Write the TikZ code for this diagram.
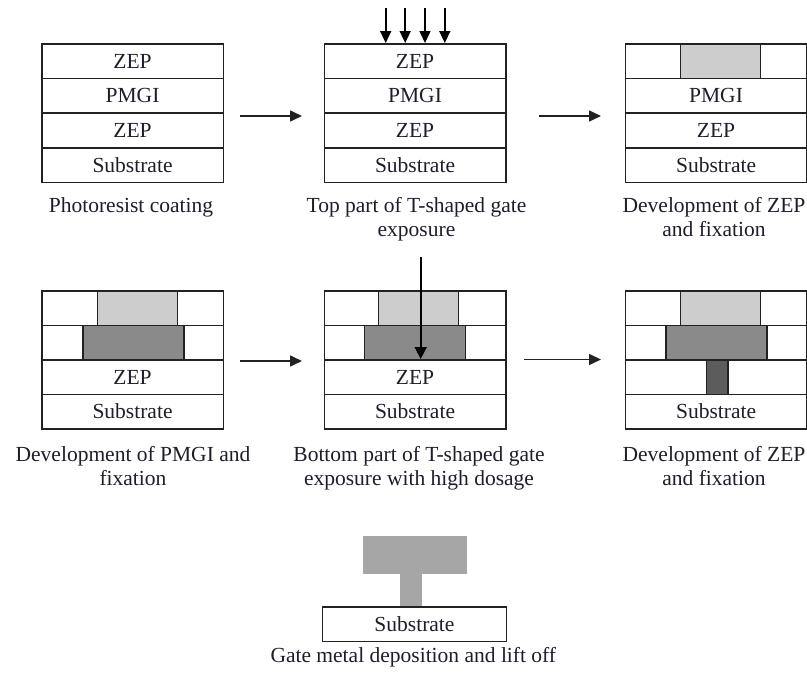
\documentclass[tikz,border=0pt]{standalone}
\usepackage{fontspec}
\setmainfont{Liberation Serif}
\usetikzlibrary{arrows.meta}
\definecolor{linec}{HTML}{222222}
\definecolor{txtc}{HTML}{1E1E2A}
\definecolor{lightg}{HTML}{CDCDCD}
\definecolor{darkg}{HTML}{8A8A8A}
\definecolor{stemg}{HTML}{5C5C5C}
\definecolor{metalg}{HTML}{A6A6A6}
\newcommand{\lblfont}{\fontsize{21.5}{24}\selectfont}
\begin{document}
\begin{tikzpicture}[x=1pt,y=-1pt,
  layerT/.style={draw=linec, line width=1.6pt, minimum width=181.5pt, minimum height=34.7pt, inner sep=0pt, anchor=north west, font=\lblfont, text=txtc},
  layerM/.style={layerT, minimum height=34.5pt},
  lblock/.style={draw=linec, fill=lightg, line width=1.6pt, inner sep=0pt, anchor=north west, minimum width=80pt, minimum height=34.6pt},
  dblock/.style={draw=linec, fill=darkg, line width=1.6pt, inner sep=0pt, anchor=north west, minimum width=101pt, minimum height=34.5pt},
  sblock/.style={draw=linec, fill=stemg, line width=1.6pt, inner sep=0pt, anchor=north west, minimum width=21.5pt, minimum height=34.5pt},
  caption/.style={font=\lblfont, text=txtc, align=center, anchor=base, inner sep=0pt},
  flow/.style={draw=linec, line width=1.6pt, -{Triangle[length=12pt,width=11pt]}},
  beam/.style={draw=black, line width=1.6pt, -{Triangle[length=12pt,width=11pt]}}
]
\useasboundingbox (0,0) rectangle (807,680);

% ---------- top row ----------
% column 1
\node[layerT] (a1) at (41,43) {ZEP};
\node[layerT] (a2) at (41,77.7) {PMGI};
\node[layerT] (a3) at (41,112.4) {ZEP};
\node[layerT] (a4) at (41,147.1) {Substrate};
% column 2
\node[layerT] (b1) at (323.5,43) {ZEP};
\node[layerT] (b2) at (323.5,77.7) {PMGI};
\node[layerT] (b3) at (323.5,112.4) {ZEP};
\node[layerT] (b4) at (323.5,147.1) {Substrate};
% column 3
\node[layerT] (c1) at (624.5,43) {};
\node[layerT] (c2) at (624.5,77.7) {PMGI};
\node[layerT] (c3) at (624.5,112.4) {ZEP};
\node[layerT] (c4) at (624.5,147.1) {Substrate};
\node[lblock, minimum height=34.7pt] (cg) at (679.5,43) {};

% exposure arrows
\foreach \i/\x in {1/385.7,2/405.2,3/425,4/444.8}{
  \coordinate (es\i) at (\x,8);
  \draw[beam] (es\i) -- (es\i |- b1.north);
}

% top-row flow arrows
\coordinate (t1s) at (240,116);
\coordinate (t1e) at (302,116);
\coordinate (t2s) at (539,116);
\coordinate (t2e) at (601,116);
\draw[flow] (t1s) -- (t1e);
\draw[flow] (t2s) -- (t2e);

% top captions
\node[caption] (capA) at (131,212.5) {Photoresist coating};
\node[caption] (capB) at (416.5,236.5) {Top part of T-shaped gate\\exposure};
\node[caption] (capC) at (714,236.5) {Development of ZEP\\and fixation};

% ---------- middle row ----------
% column 1
\node[layerM] (d1) at (41,290) {};
\node[layerM] (d2) at (41,324.5) {};
\node[layerM] (d3) at (41,359) {ZEP};
\node[layerM] (d4) at (41,393.5) {Substrate};
\node[lblock] (dg) at (96.5,290) {};
\node[dblock] (dd) at (82,324.5) {};
% column 2
\node[layerM] (e1) at (323.5,290) {};
\node[layerM] (e2) at (323.5,324.5) {};
\node[layerM] (e3) at (323.5,359) {ZEP};
\node[layerM] (e4) at (323.5,393.5) {Substrate};
\node[lblock] (eg) at (377.8,290) {};
\node[dblock] (ed) at (363.5,324.5) {};
% column 3
\node[layerM] (f1) at (624.5,290) {};
\node[layerM] (f2) at (624.5,324.5) {};
\node[layerM] (f3) at (624.5,359) {};
\node[layerM] (f4) at (624.5,393.5) {Substrate};
\node[lblock] (fg) at (679.5,290) {};
\node[dblock] (fd) at (665,324.5) {};
\node[sblock] (fs) at (705.8,359) {};

% high-dose exposure arrow
\coordinate (hs) at (420.7,257);
\draw[beam, -{Triangle[length=12pt,width=12pt]}] (hs) -- (hs |- e3.north);

% middle-row flow arrows
\coordinate (m1s) at (240,361);
\coordinate (m1e) at (302,361);
\coordinate (m2s) at (524,359.5);
\coordinate (m2e) at (601,359.5);
\draw[flow] (m1s) -- (m1e);
\draw[flow] (m2s) -- (m2e);

% middle captions
\node[caption] (capD) at (133,485.5) {Development of PMGI and\\fixation};
\node[caption] (capE) at (419,485.5) {Bottom part of T-shaped gate\\exposure with high dosage};
\node[caption] (capF) at (714,485.5) {Development of ZEP\\and fixation};

% ---------- bottom ----------
\node[layerT, minimum width=184pt] (g1) at (321.7,606) {Substrate};
\node[fill=metalg, inner sep=0pt, anchor=north west, minimum width=104pt, minimum height=37.6pt] (gt) at (362.7,535.7) {};
\node[fill=metalg, inner sep=0pt, anchor=north west, minimum width=21.7pt, minimum height=33pt] (gs) at (400,573) {};
\node[caption] (capG) at (413.3,662) {Gate metal deposition and lift off};
\end{tikzpicture}
\end{document}
